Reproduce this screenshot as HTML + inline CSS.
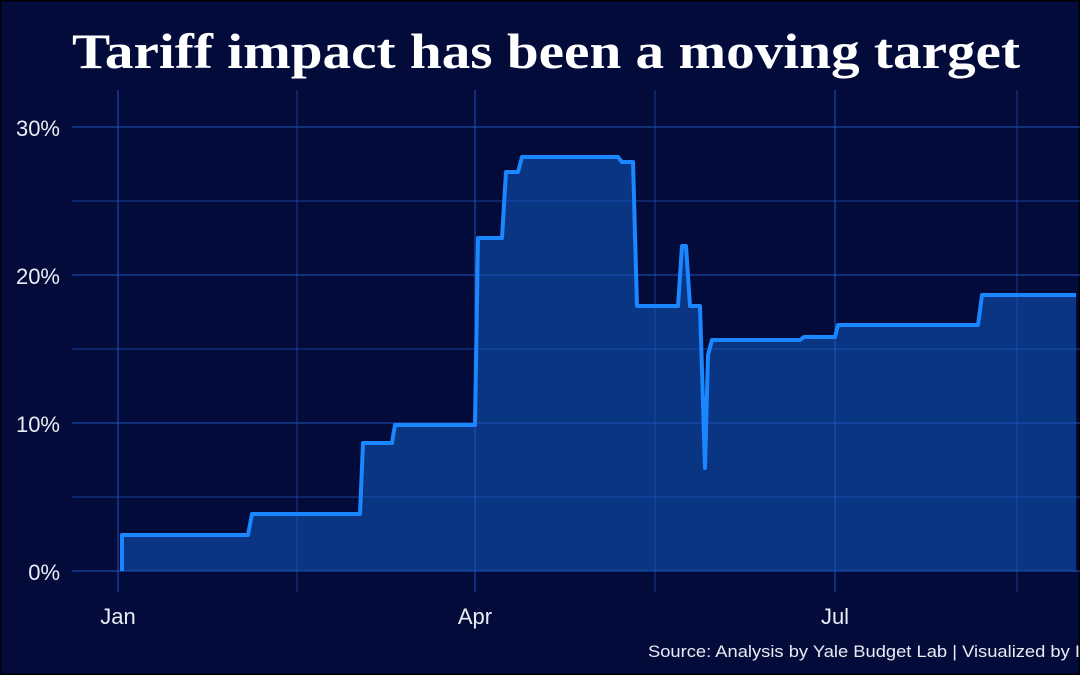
<!DOCTYPE html>
<html><head><meta charset="utf-8"><style>
html,body{margin:0;padding:0;background:#030b3b;}
svg{display:block}
</style></head><body>
<svg width="1080" height="675" viewBox="0 0 1080 675" xmlns="http://www.w3.org/2000/svg">
<rect width="1080" height="675" fill="#030b3b"/>
<rect x="0.5" y="0.5" width="1079" height="674" fill="none" stroke="#000" stroke-width="2"/>
<text x="72" y="68" textLength="948" lengthAdjust="spacingAndGlyphs" font-family="Liberation Serif, serif" font-weight="bold" font-size="50" fill="#fff">Tariff impact has been a moving target</text>
<path d="M122,571 L122,535 L248,535 L252,514 L360,514 L363,443 L392,443 L395,425 L475,425 L478,238 L502,238 L506,172 L518,172 L522,157 L618,157 L622,162 L633,162 L637,306 L678,306 L682,246 L686,246 L690,306 L700,306 L705,468 L708,355 L712,340 L800,340 L804,337 L835,337 L838,325 L978,325 L982,295 L1076,295 L1076,571 Z" fill="#093583"/>
<g stroke="#1f53b8" stroke-width="1">
<line x1="72" x2="1080" y1="571" y2="571"/>
<line x1="72" x2="1080" y1="497" y2="497" stroke-width="0.7"/>
<line x1="72" x2="1080" y1="423" y2="423"/>
<line x1="72" x2="1080" y1="349" y2="349" stroke-width="0.7"/>
<line x1="72" x2="1080" y1="275" y2="275"/>
<line x1="72" x2="1080" y1="201" y2="201" stroke-width="0.7"/>
<line x1="72" x2="1080" y1="127" y2="127"/>
<line x1="118" x2="118" y1="90" y2="592"/>
<line x1="297" x2="297" y1="90" y2="592" stroke-width="0.7"/>
<line x1="475" x2="475" y1="90" y2="592"/>
<line x1="655" x2="655" y1="90" y2="592" stroke-width="0.7"/>
<line x1="835" x2="835" y1="90" y2="592"/>
<line x1="1017" x2="1017" y1="90" y2="592" stroke-width="0.7"/>
</g>
<path d="M122,571 L122,535 L248,535 L252,514 L360,514 L363,443 L392,443 L395,425 L475,425 L478,238 L502,238 L506,172 L518,172 L522,157 L618,157 L622,162 L633,162 L637,306 L678,306 L682,246 L686,246 L690,306 L700,306 L705,468 L708,355 L712,340 L800,340 L804,337 L835,337 L838,325 L978,325 L982,295 L1076,295" fill="none" stroke="#1a86ff" stroke-width="4" stroke-linejoin="round"/>
<g font-family="Liberation Sans, sans-serif" font-size="22" fill="#e8ecf5">
<text x="60" y="136" text-anchor="end">30%</text>
<text x="60" y="284" text-anchor="end">20%</text>
<text x="60" y="432" text-anchor="end">10%</text>
<text x="60" y="580" text-anchor="end">0%</text>
<text x="118" y="624" text-anchor="middle">Jan</text>
<text x="475" y="624" text-anchor="middle">Apr</text>
<text x="835" y="624" text-anchor="middle">Jul</text>
</g>
<text x="648" y="657" textLength="432" lengthAdjust="spacingAndGlyphs" font-family="Liberation Sans, sans-serif" font-size="17" fill="#e8ecf5">Source: Analysis by Yale Budget Lab | Visualized by I</text>
</svg>
</body></html>
